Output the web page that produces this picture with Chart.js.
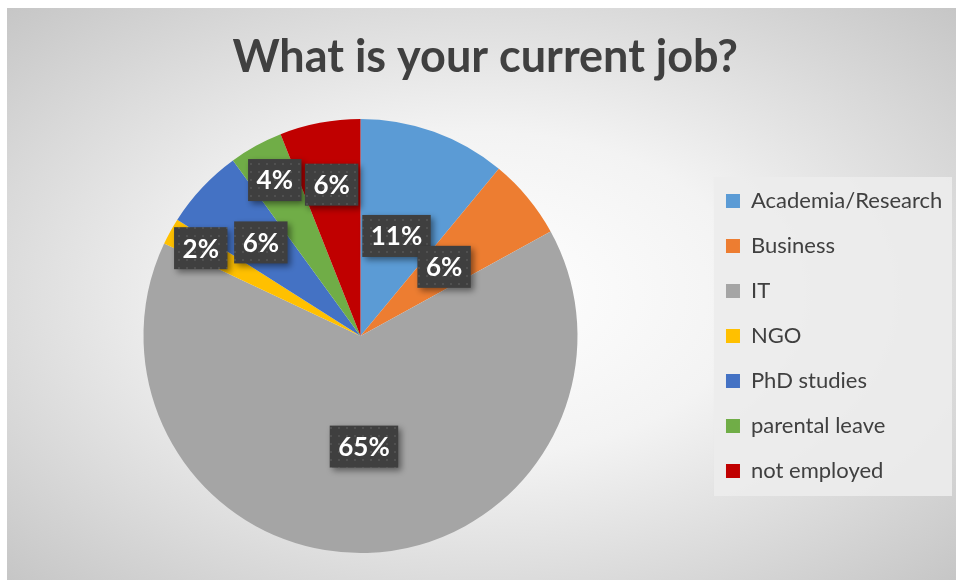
<!DOCTYPE html>
<html>
<head>
<meta charset="utf-8">
<title>What is your current job?</title>
<script src="https://cdn.jsdelivr.net/npm/chart.js@4.4.1/dist/chart.umd.min.js"></script>
<style>
  html, body { margin: 0; padding: 0; background: #ffffff; }
  #wrap {
    position: absolute; left: 7px; top: 8px; width: 949px; height: 572px;
    background: radial-gradient(ellipse farthest-corner at 50% 50%, #ffffff 0%, #f3f3f3 40%, #c6c6c6 100%);
  }
</style>
</head>
<body>
<div id="wrap"><canvas id="pie"></canvas></div>
<script>
// ------------- DATA -------------
const jobs = ['Academia/Research', 'Business', 'IT', 'NGO', 'PhD studies', 'parental leave', 'not employed'];
const shares = [11, 6, 65, 2, 6, 4, 6]; // percent, as printed on the slices
const sliceColors = ['#5B9BD5', '#ED7D31', '#A5A5A5', '#FFC000', '#4472C4', '#70AD47', '#C00000'];
// how far out (fraction of radius) each label box sits
const labelReach = [0.49, 0.50, 0.51, 0.84, 0.63, 0.82, 0.71];

const FONT = "Lato, 'Open Sans', sans-serif";
const INK = '#404040';

// dotted dark fill for the label boxes
function dotPattern(ctx){
  const c = document.createElement('canvas');
  c.width = 8; c.height = 8;
  const g = c.getContext('2d');
  g.fillStyle = '#3f3f3f'; g.fillRect(0, 0, 8, 8);
  g.fillStyle = '#505050'; g.fillRect(3, 3, 2, 2);
  return ctx.createPattern(c, 'repeat');
}

// light panel behind the legend
const legendPanel = {
  id: 'legendPanel',
  beforeDraw(chart){
    const lg = chart.legend;
    if (!lg || !lg.legendHitBoxes.length) return;
    const boxes = lg.legendHitBoxes;
    const first = boxes[0], last = boxes[boxes.length - 1];
    const ctx = chart.ctx;
    ctx.save();
    ctx.fillStyle = 'rgba(236,236,236,0.9)';
    const x = first.left - 12, y = first.top - 13;
    ctx.fillRect(x, y, chart.width - 4 - x, last.top + last.height + 14 - y);
    ctx.restore();
  }
};

// percent labels in dark boxes with a soft shadow
const boxLabels = {
  id: 'boxLabels',
  afterDatasetsDraw(chart){
    const ctx = chart.ctx;
    const meta = chart.getDatasetMeta(0);
    const fill = dotPattern(ctx);
    ctx.save();
    ctx.font = 'bold 26px ' + FONT;
    ctx.textAlign = 'center';
    ctx.textBaseline = 'middle';
    meta.data.forEach((arc, i) => {
      const p = arc.getProps(['x', 'y', 'startAngle', 'endAngle', 'outerRadius'], true);
      const mid = (p.startAngle + p.endAngle) / 2;
      const r = p.outerRadius * labelReach[i];
      const cx = p.x + Math.cos(mid) * r;
      const cy = p.y + Math.sin(mid) * r;
      const txt = shares[i] + '%';
      const w = ctx.measureText(txt).width + 17;
      const h = 42;
      ctx.shadowColor = 'rgba(0,0,0,0.45)';
      ctx.shadowBlur = 6;
      ctx.shadowOffsetX = 3;
      ctx.shadowOffsetY = 3;
      ctx.fillStyle = fill;
      ctx.fillRect(cx - w / 2, cy - h / 2, w, h);
      ctx.shadowColor = 'transparent';
      ctx.fillStyle = '#ffffff';
      ctx.fillText(txt, cx, cy + 1);
    });
    ctx.restore();
  }
};

new Chart(document.getElementById('pie'), {
  type: 'pie',
  data: {
    labels: jobs,
    datasets: [{ data: shares, backgroundColor: sliceColors, borderWidth: 0 }]
  },
  plugins: [legendPanel, boxLabels],
  options: {
    responsive: true,
    maintainAspectRatio: false,
    animation: false,
    layout: { padding: { left: 11, right: 3.7, top: 0, bottom: 27 } },
    plugins: {
      title: {
        display: true,
        text: 'What is your current job?',
        color: INK,
        font: { family: FONT, size: 45, weight: 'bold' },
        padding: { top: 22, bottom: 35 }
      },
      legend: {
        position: 'right',
        fullSize: false,
        labels: {
          color: INK,
          font: { family: FONT, size: 22 },
          boxWidth: 14,
          boxHeight: 14,
          padding: 23
        }
      },
      tooltip: { enabled: false }
    }
  }
});
</script>
</body>
</html>
